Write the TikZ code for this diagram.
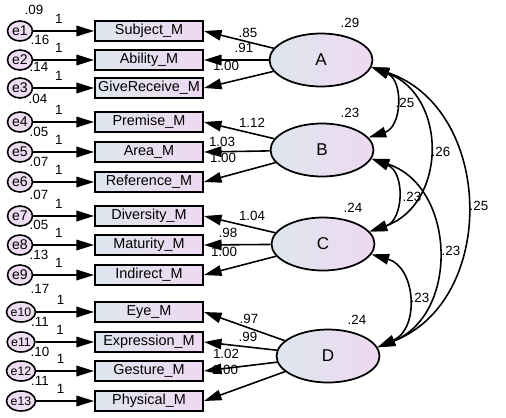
\documentclass[tikz,border=0pt]{standalone}
\usepackage{fontspec}
\setmainfont{Liberation Sans}
\usepackage{xcolor}
\usetikzlibrary{shapes.geometric, arrows.meta, positioning}

\definecolor{boxl}{RGB}{222,230,238}
\definecolor{boxr}{RGB}{238,216,242}
\definecolor{errf}{RGB}{238,220,242}

\begin{document}
\begin{tikzpicture}[x=0.02cm,y=0.02cm,
  obs/.style={draw,line width=1.1pt,minimum width=2.16cm,minimum height=0.4cm,inner sep=0pt,left color=boxl,right color=boxr,font=\fontsize{8.2}{9}\selectfont},
  err/.style={draw,line width=0.9pt,ellipse,minimum width=0.5cm,minimum height=0.4cm,inner sep=0pt,fill=errf,font=\fontsize{8}{9}\selectfont},
  lat/.style={draw,line width=1pt,ellipse,minimum width=2.06cm,minimum height=1.06cm,left color=boxl,right color=boxr,font=\fontsize{9.7}{11}\selectfont},
  num/.style={inner sep=0pt,font=\fontsize{7.6}{8}\selectfont},
  arr/.style={line width=0.9pt,-{Triangle[length=10pt,width=6pt]}},
  cov/.style={line width=0.9pt,{Triangle[length=10pt,width=6pt]}-{Triangle[length=10pt,width=6pt]},bend left=70,looseness=1.27}]
  \useasboundingbox (0,0) rectangle (506,417);

  % latent factors
  \node[lat] (A) at (321,357) {A};
  \node[lat] (B) at (322,267) {B};
  \node[lat] (C) at (323,173) {C};
  \node[lat] (D) at (328,61) {D};
  \node[num] (vA) at (350,394) {.29};
  \node[num] (vB) at (350,304) {.23};
  \node[num] (vC) at (353,209) {.24};
  \node[num] (vD) at (357,97) {.24};

  % indicators of A
  \node[err] (e1) at (20,386) {e1};
  \node[err] (e2) at (20,357) {e2};
  \node[err] (e3) at (20,329) {e3};
  \node[obs] (s1) at (149,386) {Subject\_M};
  \node[obs] (s2) at (149,357) {Ability\_M};
  \node[obs] (s3) at (149,329) {GiveReceive\_M};
  \draw[arr] (e1) -- node[num,pos=0.42,above=4pt] (w1) {1} (s1);
  \draw[arr] (e2) -- node[num,pos=0.42,above=4pt] (w2) {1} (s2);
  \draw[arr] (e3) -- node[num,pos=0.42,above=4pt] (w3) {1} (s3);
  \node[num] (v1) at (34,407) {.09};
  \node[num] (v2) at (40,377) {.16};
  \node[num] (v3) at (39,350) {.14};
  \draw[arr] (A) -- (s1.east);
  \draw[arr] (A) -- (s2.east);
  \draw[arr] (A) -- (s3.east);
  \node[num] (l1) at (248,384) {.85};
  \node[num] (l2) at (244,369) {.91};
  \node[num] (l3) at (226,351) {1.00};

  % indicators of B
  \node[err] (e4) at (20,295) {e4};
  \node[err] (e5) at (20,265) {e5};
  \node[err] (e6) at (20,235) {e6};
  \node[obs] (s4) at (149,295) {Premise\_M};
  \node[obs] (s5) at (149,265) {Area\_M};
  \node[obs] (s6) at (149,235) {Reference\_M};
  \draw[arr] (e4) -- node[num,pos=0.42,above=4pt] (w4) {1} (s4);
  \draw[arr] (e5) -- node[num,pos=0.42,above=4pt] (w5) {1} (s5);
  \draw[arr] (e6) -- node[num,pos=0.42,above=4pt] (w6) {1} (s6);
  \node[num] (v4) at (38,318) {.04};
  \node[num] (v5) at (39,285) {.05};
  \node[num] (v6) at (39,255) {.07};
  \draw[arr] (B) -- (s4.east);
  \draw[arr] (B) -- (s5.east);
  \draw[arr] (B) -- (s6.east);
  \node[num] (l4) at (252,294) {1.12};
  \node[num] (l5) at (222,275) {1.03};
  \node[num] (l6) at (223,259) {1.00};

  % indicators of C
  \node[err] (e7) at (20,201) {e7};
  \node[err] (e8) at (20,172) {e8};
  \node[err] (e9) at (20,142) {e9};
  \node[obs] (s7) at (149,201) {Diversity\_M};
  \node[obs] (s8) at (149,172) {Maturity\_M};
  \node[obs] (s9) at (149,142) {Indirect\_M};
  \draw[arr] (e7) -- node[num,pos=0.42,above=4pt] (w7) {1} (s7);
  \draw[arr] (e8) -- node[num,pos=0.42,above=4pt] (w8) {1} (s8);
  \draw[arr] (e9) -- node[num,pos=0.42,above=4pt] (w9) {1} (s9);
  \node[num] (v7) at (39,222) {.07};
  \node[num] (v8) at (39,192) {.05};
  \node[num] (v9) at (39,162) {.13};
  \draw[arr] (C) -- (s7.east);
  \draw[arr] (C) -- (s8.east);
  \draw[arr] (C) -- (s9.east);
  \node[num] (l7) at (252,201) {1.04};
  \node[num] (l8) at (228,184) {.98};
  \node[num] (l9) at (224,165) {1.00};

  % indicators of D
  \node[err,font=\fontsize{7}{8}\selectfont] (e10) at (21,105) {e10};
  \node[err,font=\fontsize{7}{8}\selectfont] (e11) at (21,75) {e11};
  \node[err,font=\fontsize{7}{8}\selectfont] (e12) at (21,46) {e12};
  \node[err,font=\fontsize{7}{8}\selectfont] (e13) at (21,16) {e13};
  \node[obs] (s10) at (149,105) {Eye\_M};
  \node[obs] (s11) at (149,75) {Expression\_M};
  \node[obs] (s12) at (149,46) {Gesture\_M};
  \node[obs] (s13) at (149,16) {Physical\_M};
  \draw[arr] (e10) -- node[num,pos=0.42,above=4pt] (w10) {1} (s10);
  \draw[arr] (e11) -- node[num,pos=0.42,above=4pt] (w11) {1} (s11);
  \draw[arr] (e12) -- node[num,pos=0.42,above=4pt] (w12) {1} (s12);
  \draw[arr] (e13) -- node[num,pos=0.42,above=4pt] (w13) {1} (s13);
  \node[num] (v10) at (40,128) {.17};
  \node[num] (v11) at (40,95) {.11};
  \node[num] (v12) at (40,65) {.10};
  \node[num] (v13) at (40,36) {.11};
  \draw[arr] (D) -- (s10.east);
  \draw[arr] (D) -- (s11.east);
  \draw[arr] (D) -- (s12.east);
  \draw[arr] (D) -- (s13.east);
  \node[num] (l10) at (249,98) {.97};
  \node[num] (l11) at (248,80) {.99};
  \node[num] (l12) at (226,63) {1.02};
  \node[num] (l13) at (225,47) {1.00};

  % covariances
  \draw[cov] (A.-8) to (B.15);
  \draw[cov] (A.-8) to (C.15);
  \draw[cov,looseness=1.18] (A.-8) to (D.10);
  \draw[cov] (B.-10) to (C.15);
  \draw[cov,looseness=1.2] (B.-10) to (D.10);
  \draw[cov] (C.-12) to (D.10);
  \node[num] (cAB) at (405,314) {.25};
  \node[num] (cAC) at (441,265) {.26};
  \node[num] (cAD) at (479,211) {.25};
  \node[num] (cBC) at (412,220) {.23};
  \node[num] (cBD) at (451,166) {.23};
  \node[num] (cCD) at (420,119) {.23};
\end{tikzpicture}
\end{document}
